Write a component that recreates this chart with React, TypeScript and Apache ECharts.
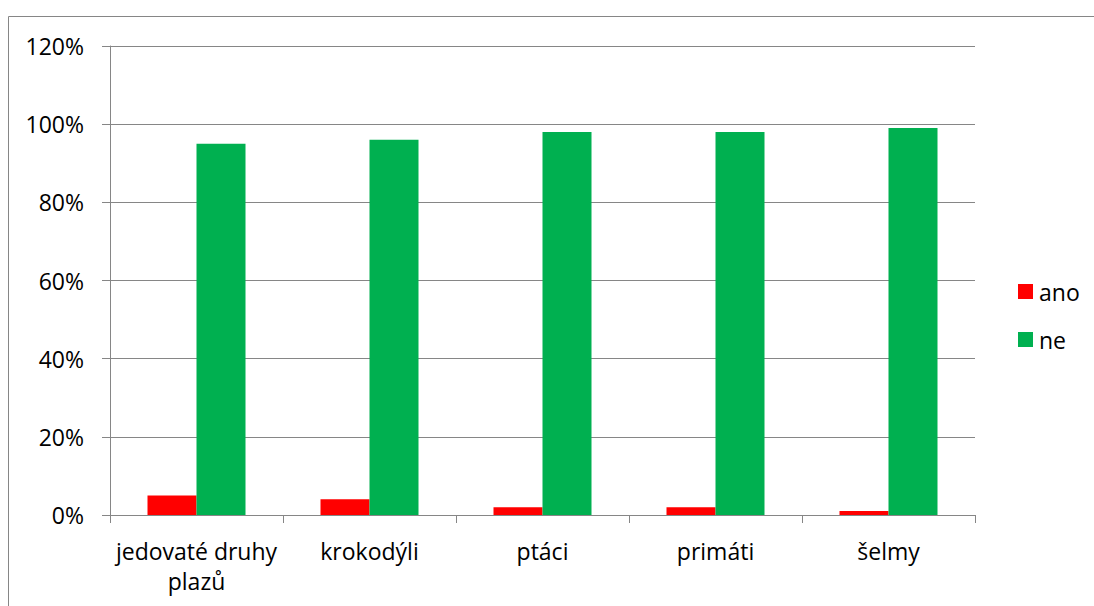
import React, { useEffect, useRef } from "react";
import * as echarts from "echarts";

const categories = ["jedovaté druhy\nplazů", "krokodýli", "ptáci", "primáti", "šelmy"];
const anoValues = [5, 4, 2, 2, 1];
const neValues = [95, 96, 98, 98, 99];
const seriesNames = ["ano", "ne"];
const yTicks = { min: 0, max: 120, interval: 20 };

const FONT = "Open Sans";
const GRAY = "#868686";
const FS = 23;

export default function App() {
  const ref = useRef<HTMLDivElement>(null);
  useEffect(() => {
    document.documentElement.style.overflow = "hidden";
    document.body.style.overflow = "hidden";
    if (!ref.current) return;
    const chart = echarts.init(ref.current, null, { renderer: "svg" });
    chart.setOption({
      animation: false,
      backgroundColor: "#ffffff",
      textStyle: { fontFamily: FONT },
      graphic: [
        {
          type: "line",
          shape: { x1: 8.5, y1: 16.5, x2: 1094, y2: 16.5 },
          style: { stroke: GRAY, lineWidth: 1 },
          silent: true,
        },
        {
          type: "line",
          shape: { x1: 8.5, y1: 16.5, x2: 8.5, y2: 606 },
          style: { stroke: GRAY, lineWidth: 1 },
          silent: true,
        },
      ],
      grid: { left: 110, top: 46, right: 119, bottom: 91, containLabel: false },
      legend: {
        orient: "vertical",
        left: 1018,
        top: 280,
        padding: 0,
        itemWidth: 15,
        itemHeight: 15,
        itemGap: 25,
        icon: "rect",
        data: seriesNames,
        textStyle: { fontFamily: FONT, fontSize: FS, color: "#000", padding: [0, 0, 0, 1] },
      },
      xAxis: {
        type: "category",
        data: categories,
        axisLine: { lineStyle: { color: GRAY, width: 1 } },
        axisTick: { show: true, length: 8, lineStyle: { color: GRAY }, alignWithLabel: false },
        axisLabel: {
          interval: 0,
          margin: 21,
          fontFamily: FONT,
          fontSize: FS,
          lineHeight: 30,
          color: "#000",
        },
      },
      yAxis: {
        type: "value",
        min: yTicks.min,
        max: yTicks.max,
        interval: yTicks.interval,
        axisLine: { show: true, lineStyle: { color: GRAY, width: 1 } },
        axisTick: { show: true, length: 8, lineStyle: { color: GRAY } },
        splitLine: { show: true, lineStyle: { color: GRAY, width: 1 } },
        axisLabel: {
          margin: 26,
          fontFamily: FONT,
          fontSize: FS,
          color: "#000",
          formatter: "{value}%",
        },
      },
      series: [
        {
          name: seriesNames[0],
          type: "bar",
          data: anoValues,
          barWidth: 49,
          barGap: "0%",
          itemStyle: { color: "#FF0000" },
        },
        {
          name: seriesNames[1],
          type: "bar",
          data: neValues,
          barWidth: 49,
          barGap: "0%",
          itemStyle: { color: "#00B050" },
        },
      ],
    });
    return () => chart.dispose();
  }, []);
  return (
    <div
      ref={ref}
      style={{ position: "absolute", left: 0, top: 0, width: 1094, height: 606 }}
    />
  );
}
